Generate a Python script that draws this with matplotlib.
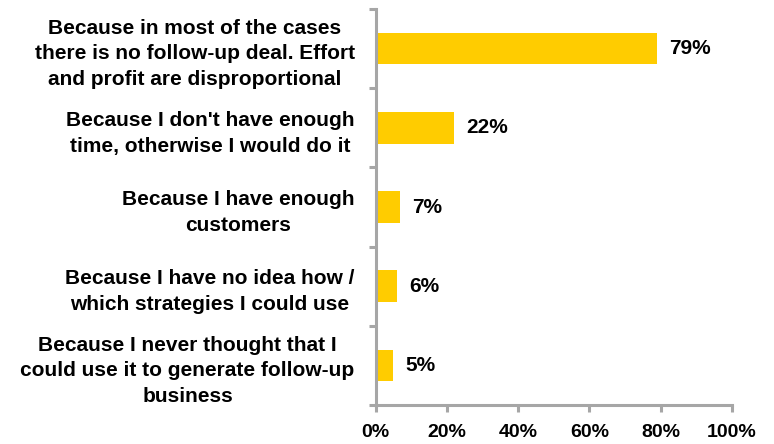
import matplotlib
matplotlib.use("Agg")
import matplotlib.pyplot as plt
import numpy as np

categories = [
    "Because in most of the cases\nthere is no follow-up deal. Effort\nand profit are disproportional",
    "Because I don't have enough\ntime, otherwise I would do it",
    "Because I have enough\ncustomers",
    "Because I have no idea how /\nwhich strategies I could use",
    "Because I never thought that I\ncould use it to generate follow-up\nbusiness",
]
values = [79, 22, 7, 6, 5]
value_labels = ["79%", "22%", "7%", "6%", "5%"]
xticks = [0, 20, 40, 60, 80, 100]
xtick_labels = ["0%", "20%", "40%", "60%", "80%", "100%"]

plt.rcParams['font.family'] = ['Liberation Sans', 'DejaVu Sans']
plt.rcParams['font.weight'] = 'bold'

fig = plt.figure(figsize=(7.74, 4.44), dpi=100)
x0, x1 = 375.5, 732
ax = fig.add_axes([x0/774, 1 - 405/444, (x1-x0)/774, (405-9)/444])

grey = "#a6a6a6"
y = np.arange(len(categories))
ax.barh(y, values, height=0.4, color="#FFCC00", zorder=2)

for yi, v, lab in zip(y, values, value_labels):
    ax.annotate(lab, xy=(v, yi), xytext=(12, 0), textcoords="offset pixels",
                va="center", ha="left", fontsize=15, fontweight="bold", color="black")

ax.set_xlim(0, 100)
ax.set_ylim(len(categories) - 0.5, -0.5)

ax.set_xticks(xticks)
ax.set_xticklabels(xtick_labels, fontsize=14, fontweight="bold")

ax.set_yticks(np.arange(-0.5, len(categories), 1.0))
ax.set_yticklabels([])
ax.set_yticks(y, minor=True)
ax.set_yticklabels(categories, minor=True, fontsize=15, fontweight="bold",
                   multialignment="center", linespacing=1.45)

for s in ["top", "right"]:
    ax.spines[s].set_visible(False)
for s in ["left", "bottom"]:
    ax.spines[s].set_color(grey)
    ax.spines[s].set_linewidth(2.2)

ax.tick_params(axis="y", which="major", direction="out", length=5, width=2.2, color=grey)
ax.tick_params(axis="y", which="minor", length=0, pad=15)
ax.tick_params(axis="x", which="major", direction="out", length=5, width=2.2, color=grey, pad=9)

fig.savefig("out.png", dpi=100)
